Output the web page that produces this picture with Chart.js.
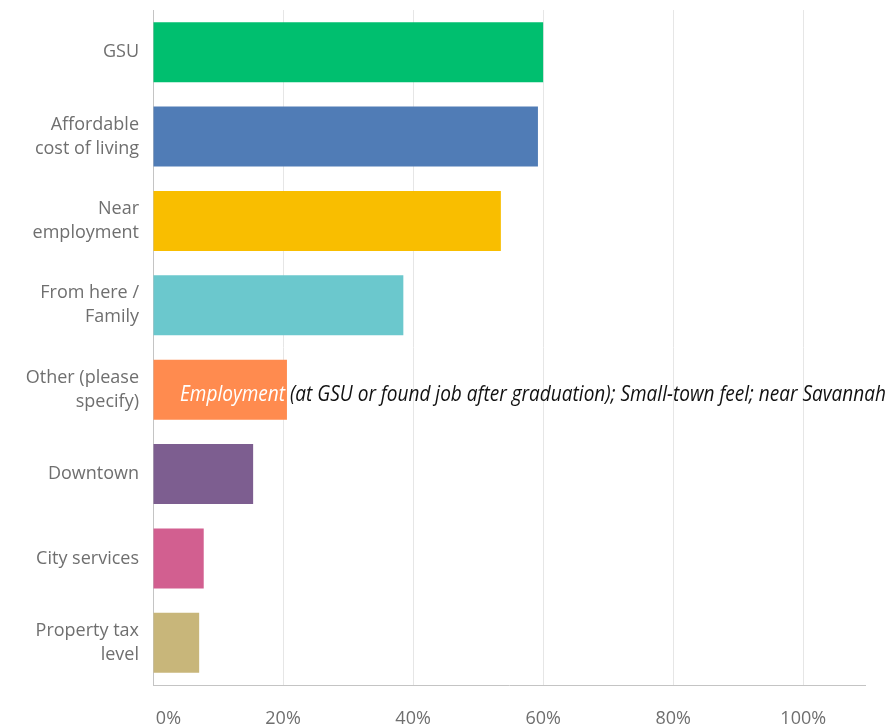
<!DOCTYPE html>
<html>
<head>
<meta charset="utf-8">
<script src="https://cdn.jsdelivr.net/npm/chart.js@4.4.0/dist/chart.umd.min.js"></script>
<style>
  html, body { margin: 0; padding: 0; background: #fff; }
  #wrap { width: 892px; height: 726px; }
</style>
</head>
<body>
<div id="wrap"><canvas id="myChart" width="892" height="726"></canvas></div>
<script>
// Datos de la grafica
const categories = [
    ['GSU'],
    ['Affordable', 'cost of living'],
    ['Near', 'employment'],
    ['From here /', 'Family'],
    ['Other (please', 'specify)'],
    ['Downtown'],
    ['City services'],
    ['Property tax', 'level']
];
const percents = [60.0, 59.2, 53.5, 38.5, 20.6, 15.4, 7.8, 7.1];
const barColors = ['#00bf6f', '#507cb6', '#f9be00', '#6bc8cd', '#ff8b4f', '#7d5e90', '#d25f90', '#c8b67a'];
const xTicks = [0, 20, 40, 60, 80, 100];
const otherNoteLead = 'Employment';
const otherNoteRest = ' (at GSU or found job after graduation); Small-town feel; near Savannah';

// nota escrita sobre la barra "Other"
const notePlugin = {
    id: 'otherNote',
    afterDatasetsDraw(chart) {
        const c = chart.ctx;
        const x0 = chart.scales.x.getPixelForValue(0) + 27;
        const y = chart.scales.y.getPixelForValue(4) + 11;
        c.save();
        c.font = 'italic 21px "Open Sans"';
        c.textBaseline = 'alphabetic';
        const full = c.measureText(otherNoteLead + otherNoteRest).width;
        const sx = 706 / full;
        c.translate(x0, y);
        c.scale(sx, 1);
        c.fillStyle = '#ffffff';
        c.fillText(otherNoteLead, 0, 0);
        c.fillStyle = '#111111';
        c.fillText(otherNoteRest, c.measureText(otherNoteLead).width, 0);
        c.restore();
    }
};

const ctx = document.getElementById('myChart').getContext('2d');
const myChart = new Chart(ctx, {
    type: 'bar',
    data: {
        labels: categories,
        datasets: [{
            data: percents,
            backgroundColor: barColors,
            borderWidth: 0,
            barPercentage: 0.71,
            categoryPercentage: 1
        }]
    },
    options: {
        indexAxis: 'y',
        responsive: false,
        animation: false,
        layout: { padding: { top: 10, right: 27 } },
        plugins: {
            legend: { display: false },
            tooltip: { enabled: false }
        },
        scales: {
            x: {
                min: 0,
                max: 109.5,
                afterFit(scale) {
                    scale.height = 41;
                    scale.paddingLeft = 0;
                    scale.paddingRight = 0;
                },
                afterBuildTicks(scale) { scale.ticks = xTicks.map(v => ({ value: v })); },
                grid: { color: '#e6e6e6', drawTicks: false },
                border: { color: '#c4c4c4' },
                ticks: {
                    padding: 23,
                    color: '#6f6f6f',
                    font: { family: 'Open Sans', size: 18 },
                    callback: v => (v === 0 ? '\u2007\u2007\u2007' : '') + v + '%'
                }
            },
            y: {
                afterFit(scale) {
                    scale.width = 153;
                    scale.paddingTop = 0;
                    scale.paddingBottom = 0;
                },
                grid: { display: false, drawTicks: false },
                border: { color: '#c4c4c4' },
                ticks: {
                    padding: 14,
                    color: '#6f6f6f',
                    font: { family: 'Open Sans', size: 18, lineHeight: 1.33 }
                }
            }
        }
    },
    plugins: [notePlugin]
});
</script>
</body>
</html>
